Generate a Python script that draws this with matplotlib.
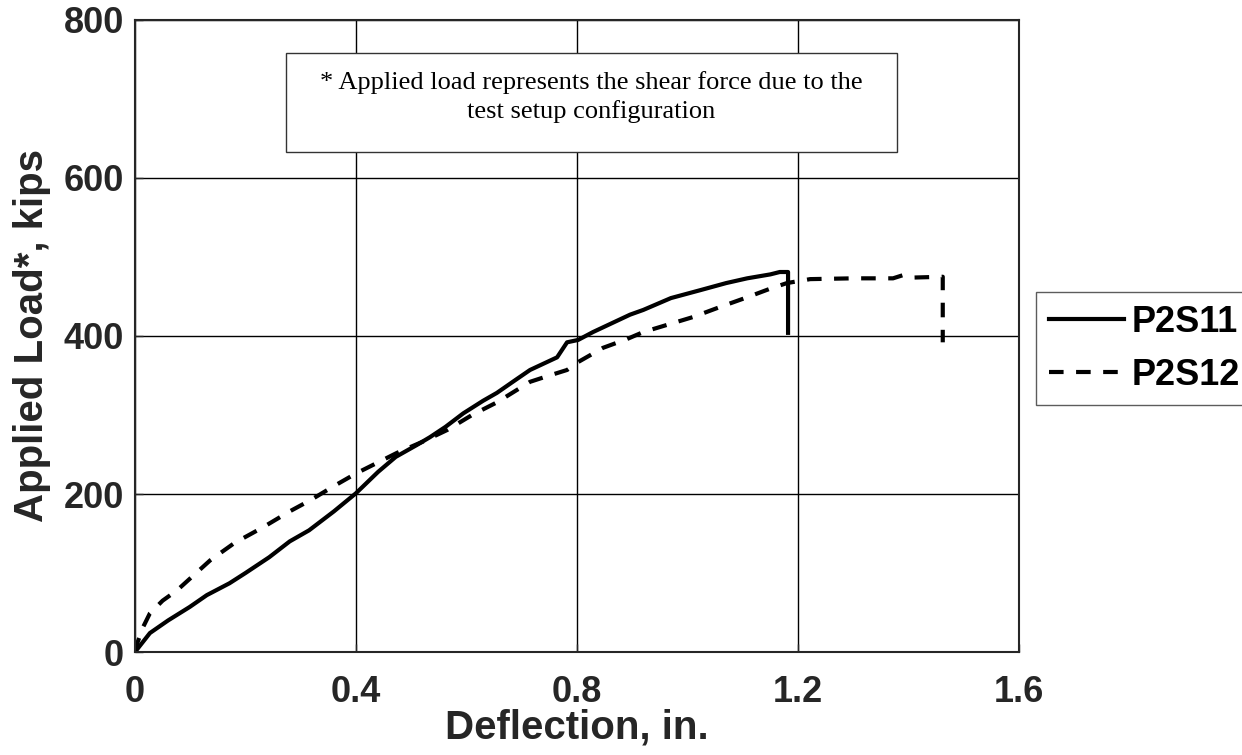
import matplotlib
matplotlib.use("Agg")
import matplotlib.pyplot as plt
from matplotlib.patches import Rectangle

# Data
p2s11_x = [0, 0.027, 0.06, 0.099, 0.13, 0.171, 0.2, 0.243, 0.28, 0.315, 0.36, 0.40,
           0.44, 0.472, 0.51, 0.534, 0.562, 0.594, 0.63, 0.655, 0.69, 0.715, 0.764,
           0.782, 0.802, 0.829, 0.896, 0.92, 0.97, 1.023, 1.07, 1.108, 1.15, 1.167,
           1.182, 1.182]
p2s11_y = [0, 24, 40, 57, 72, 87, 100, 120, 140, 154, 178, 201,
           228, 247, 262, 272, 285, 302, 318, 328, 345, 357, 373,
           392, 395, 405, 427, 433, 448, 458, 467, 473, 478, 481,
           481, 404]

p2s12_x = [0, 0.004, 0.015, 0.027, 0.05, 0.076, 0.136, 0.18, 0.232, 0.28, 0.317, 0.36,
           0.40, 0.474, 0.52, 0.565, 0.61, 0.655, 0.715, 0.75, 0.782, 0.802, 0.847,
           0.89, 0.92, 1.01, 1.06, 1.108, 1.15, 1.18, 1.222, 1.30, 1.372, 1.39, 1.41,
           1.462, 1.462]
p2s12_y = [0, 11, 32, 49, 65, 78, 116, 138, 158, 178, 192, 210,
           226, 252, 266, 281, 300, 316, 342, 350, 357, 367, 385,
           396, 405, 424, 437, 449, 460, 467, 472, 473, 473, 477, 474,
           475, 392]

x_ticks = [0, 0.4, 0.8, 1.2, 1.6]
x_tick_labels = ["0", "0.4", "0.8", "1.2", "1.6"]
y_ticks = [0, 200, 400, 600, 800]
y_tick_labels = ["0", "200", "400", "600", "800"]
series_labels = ["P2S11", "P2S12"]
note_text = "* Applied load represents the shear force due to the\ntest setup configuration"

W, H = 1242, 755
fig = plt.figure(figsize=(W / 100, H / 100), dpi=100)
ax = fig.add_axes([135 / W, (H - 652) / H, (1019 - 135) / W, (652 - 20) / H])

ax.plot(p2s11_x, p2s11_y, color="black", lw=3.0, solid_joinstyle="round",
        label=series_labels[0])
ax.plot(p2s12_x, p2s12_y, color="black", lw=3.0, linestyle=(0, (3.5, 3.0)),
        label=series_labels[1])

ax.set_xlim(0, 1.6)
ax.set_ylim(0, 800)
ax.set_xticks(x_ticks)
ax.set_xticklabels(x_tick_labels)
ax.set_yticks(y_ticks)
ax.set_yticklabels(y_tick_labels)
ax.grid(True, color="black", lw=1.0)
ax.set_axisbelow(True)
for s in ax.spines.values():
    s.set_linewidth(1.5)
    s.set_color("#262626")
ax.tick_params(direction="in", length=6, width=1.0, colors="#262626")
ax.tick_params(axis="x", pad=16.5)
ax.tick_params(axis="y", pad=8)
for lab in ax.get_xticklabels() + ax.get_yticklabels():
    lab.set_fontfamily("Liberation Sans")
    lab.set_fontweight("bold")
    lab.set_fontsize(26)
    lab.set_color("#262626")

ax.set_xlabel("Deflection, in.", fontfamily="Liberation Sans", fontweight="bold",
              fontsize=29, color="#262626", labelpad=-1)
ax.set_ylabel("Applied Load*, kips", fontfamily="Liberation Sans", fontweight="bold",
              fontsize=29, color="#262626", labelpad=9)

# note box
x0, x1 = (286 - 135) / 884, (897 - 135) / 884
y0, y1 = (652 - 152) / 632, (652 - 53) / 632
ax.add_patch(Rectangle((x0, y0), x1 - x0, y1 - y0, transform=ax.transAxes,
                       facecolor="white", edgecolor="#333333", lw=1.0, zorder=5))
ax.text((x0 + x1) / 2, (652 - 97) / 632, note_text, transform=ax.transAxes,
        ha="center", va="center", fontfamily="Liberation Serif", fontsize=19,
        color="black", zorder=6, linespacing=1.35)

leg = fig.legend(loc="upper left", bbox_to_anchor=(1036 / W, (H - 292) / H),
                 frameon=True, fancybox=False, edgecolor="#333333",
                 prop={"family": "Liberation Sans", "weight": "bold", "size": 26},
                 handlelength=2.1, handletextpad=0.2, borderpad=0.35,
                 labelspacing=0.5, borderaxespad=0)
leg.get_frame().set_linewidth(1.0)

fig.savefig("out.png", dpi=100, facecolor="white")
